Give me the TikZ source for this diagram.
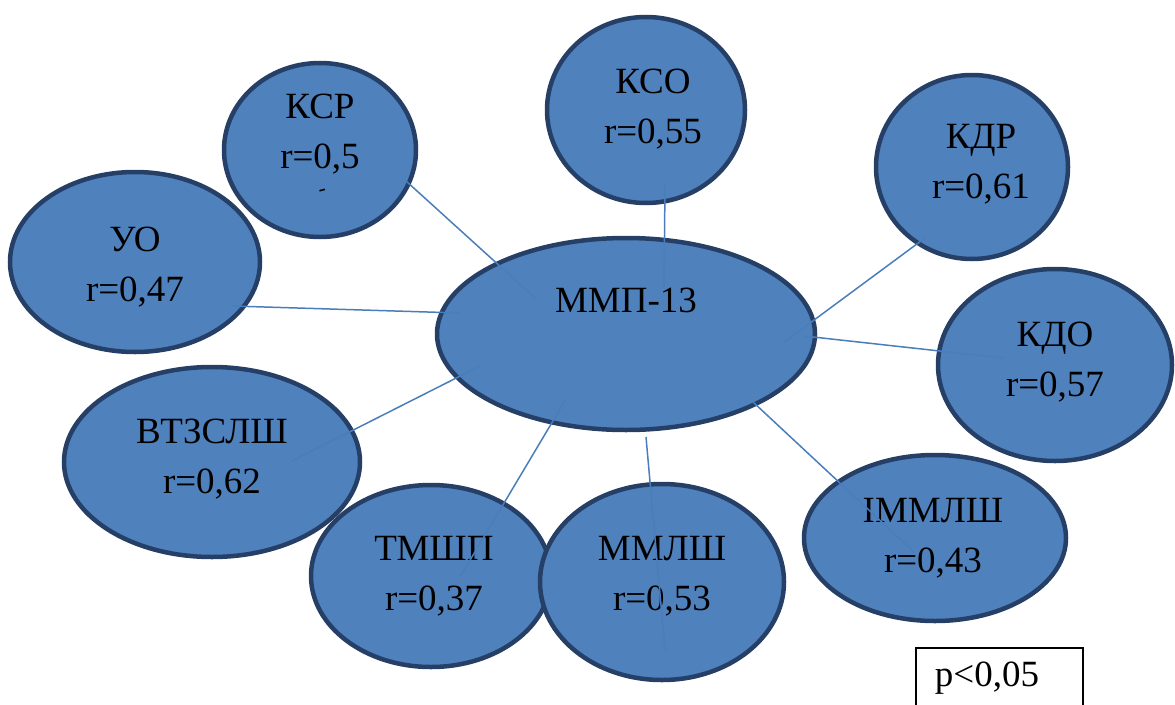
\documentclass[tikz,border=0pt]{standalone}
\usepackage{fontspec}
\setmainfont{Liberation Serif}
\usepackage{tikz}
\usetikzlibrary{shapes.geometric}

\definecolor{bubblefill}{HTML}{4F81BD}
\definecolor{bubbleedge}{HTML}{253F66}
\definecolor{linkblue}{HTML}{4A7EBB}

\begin{document}
\begin{tikzpicture}[x=1pt, y=-1pt,
    bubble/.style={ellipse, draw=bubbleedge, fill=bubblefill, line width=4.5pt, inner sep=0pt},
    txt/.style={align=center, font=\fontsize{37}{50}\selectfont},
    conn/.style={draw=linkblue, line width=1.5pt}]
    \useasboundingbox (0,0) rectangle (1175,704);

    % Centre
    \node[bubble, minimum width=378, minimum height=192,
        label={[txt, yshift=34]center:{ММП-13}}] (mmp) at (626,334) {};

    % Outer bubbles, clockwise from top left
    \node[bubble, minimum width=192, minimum height=174,
        label={[txt, yshift=16]center:{КСР\\r=0,5}}] (ksr) at (320,150) {};
    \node[rotate=15] (ksr-mark) at (323,193) {\fontsize{22}{22}\selectfont -};
    \node[bubble, minimum width=198, minimum height=186,
        label={[txt, xshift=7, yshift=1]center:{КСО\\r=0,55}}] (kso) at (646,110) {};
    \node[bubble, minimum width=192, minimum height=184,
        label={[txt, xshift=9, yshift=3]center:{КДР\\r=0,61}}] (kdr) at (972,167) {};
    \node[bubble, minimum width=234, minimum height=192,
        label={[txt, yshift=3]center:{КДО\\r=0,57}}] (kdo) at (1055,365) {};
    \node[bubble, minimum width=262, minimum height=166,
        label={[txt, xshift=-2]center:{ІММЛШ\\r=0,43}}] (immlsh) at (935,538) {};
    \node[bubble, minimum width=250, minimum height=180,
        label={[txt, yshift=-5]center:{УО\\r=0,47}}] (uo) at (135,262) {};
    \node[bubble, minimum width=296, minimum height=190,
        label={[txt, yshift=3]center:{ВТЗСЛШ\\r=0,62}}] (vtz) at (212,462) {};
    \node[bubble, minimum width=240, minimum height=182,
        label={[txt, xshift=3]center:{ТМШП\\r=0,37}}] (tmsh) at (431,576) {};
    \node[bubble, minimum width=244, minimum height=196,
        label={[txt, yshift=6]center:{ММЛШ\\r=0,53}}] (mmlsh) at (662,582) {};

    % Ends of the links
    \coordinate (ksr-e) at (406,181);   \coordinate (mmp-ksr) at (535,298);
    \coordinate (kso-e) at (665,185);   \coordinate (mmp-kso) at (664,287);
    \coordinate (kdr-e) at (925,238);   \coordinate (mmp-kdr) at (783,343);
    \coordinate (kdo-e) at (1003,358);  \coordinate (mmp-kdo) at (804,336);
    \coordinate (uo-e) at (232,306);    \coordinate (mmp-uo) at (460,313);
    \coordinate (vtz-e) at (290,462);   \coordinate (mmp-vtz) at (480,366);
    \coordinate (tmsh-e) at (460,577);  \coordinate (mmp-tmsh) at (566,399);
    \coordinate (mmlsh-e) at (665,650); \coordinate (mmp-mmlsh) at (646,437);
    \coordinate (immlsh-e) at (915,553);\coordinate (mmp-immlsh) at (753,402);

    \foreach \b in {ksr,kso,kdr,kdo,uo,vtz,tmsh,mmlsh,immlsh}
        \draw[conn] (\b-e) -- (mmp-\b);

    % Significance box
    \draw[line width=1.5pt] (916,648) rectangle (1083,720);
    \node[txt] (pval) at (987,678) {p<0,05};
\end{tikzpicture}
\end{document}
